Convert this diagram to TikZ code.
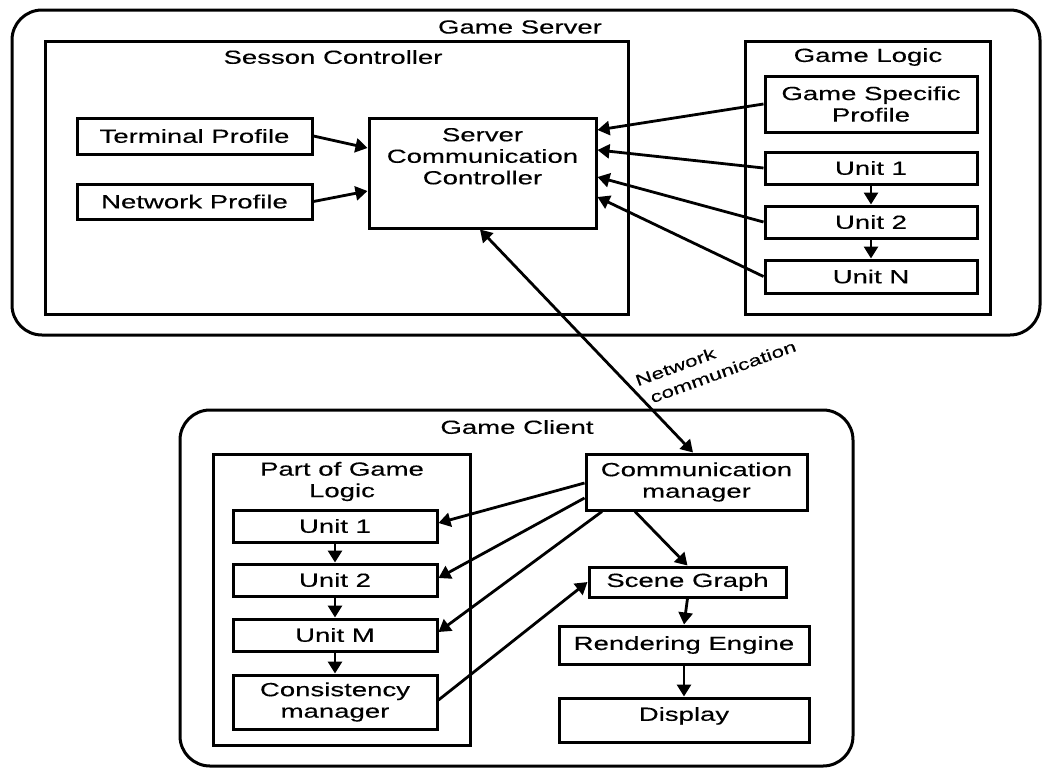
\documentclass[tikz,border=0pt]{standalone}
\usepackage{fontspec}
\setmainfont{Liberation Sans}[FakeStretch=1.45,FakeBold=0.3]
\usetikzlibrary{arrows.meta}
\begin{document}
\begin{tikzpicture}[x=1pt,y=-1pt,
  every node/.style={font=\fontsize{19}{21.5}\selectfont},
  box/.style={draw, line width=3pt, rectangle, inner sep=0pt, align=center},
  cont/.style={draw, line width=3pt, rectangle, rounded corners=30pt, inner sep=0pt},
  ttl/.style={inner sep=0pt, align=center},
  arr/.style={line width=2.8pt, -{Triangle[length=12pt,width=14pt]}},
  darr/.style={line width=2.8pt, {Triangle[length=12pt,width=14pt]}-{Triangle[length=12pt,width=14pt]}}
]
\useasboundingbox (0,0) rectangle (1055,769);
% ---------- Game Server ----------
\node[cont, minimum width=1028pt, minimum height=325pt] (GS) at (526,172.5) {};
\node[ttl] (GSt) at (520,27) {Game Server};
\node[box, minimum width=583pt, minimum height=273pt] (SC) at (336.5,177.5) {};
\node[ttl] (SCt) at (333,57) {Sesson Controller};
\node[box, minimum width=235pt, minimum height=36pt] (TP) at (194.5,136) {Terminal Profile};
\node[box, minimum width=235pt, minimum height=35pt] (NP) at (194.5,201.5) {Network Profile};
\node[box, minimum width=227pt, minimum height=110pt,
  label={[name=SCCt, anchor=north, yshift=-8pt, align=center]north:Server\\Communication\\Controller}] (SCC) at (482.5,173) {};
\node[box, minimum width=245pt, minimum height=273pt] (GL) at (867.5,177.5) {};
\node[ttl] (GLt) at (868,57) {Game Logic};
\node[box, minimum width=212pt, minimum height=56pt] (GSP) at (871,104) {Game Specific\\Profile};
\node[box, minimum width=212pt, minimum height=32pt] (SU1) at (871,168) {Unit 1};
\node[box, minimum width=212pt, minimum height=32pt] (SU2) at (871,222) {Unit 2};
\node[box, minimum width=212pt, minimum height=33pt] (SUN) at (871,276.5) {Unit N};
% ---------- Game Client ----------
\node[cont, minimum width=673pt, minimum height=356pt] (GC) at (516.5,588) {};
\node[ttl] (GCt) at (517,427) {Game Client};
\node[box, minimum width=257pt, minimum height=291pt] (PGL) at (341.5,599.5) {};
\node[ttl] (PGLt) at (342,481.5) {Part of Game\\Logic};
\node[box, minimum width=204pt, minimum height=32pt] (CU1) at (335,526) {Unit 1};
\node[box, minimum width=204pt, minimum height=32pt] (CU2) at (335,580) {Unit 2};
\node[box, minimum width=204pt, minimum height=32pt] (CUM) at (335,635) {Unit M};
\node[box, minimum width=204pt, minimum height=54pt] (CCM) at (335,702) {Consistency\\manager};
\node[box, minimum width=221pt, minimum height=56pt] (CM) at (696.5,482) {Communication\\manager};
\node[box, minimum width=197pt, minimum height=30pt] (SG) at (687.5,582) {Scene Graph};
\node[box, minimum width=250pt, minimum height=38pt] (RE) at (684,645) {Rendering Engine};
\node[box, minimum width=250pt, minimum height=44pt,
  label={[name=DIt, anchor=north, yshift=-7pt]north:Display}] (DI) at (684,720) {};
% ---------- Server arrows ----------
\draw[arr] (TP.east) -- ([yshift=25pt]SCC.west);
\draw[arr] (NP.east) -- ([yshift=-18pt]SCC.west);
\draw[arr] (GSP.west) -- ([yshift=43pt]SCC.east);
\draw[arr] (SU1.west) -- ([yshift=23pt]SCC.east);
\draw[arr] (SU2.west) -- ([yshift=-4pt]SCC.east);
\draw[arr] (SUN.west) -- ([yshift=-24pt]SCC.east);
\draw[arr] (SU1.south) -- (SU2.north);
\draw[arr] (SU2.south) -- (SUN.north);
% ---------- Network ----------
\draw[darr] ([xshift=-2.5pt]SCC.south) -- ([xshift=-3.5pt]CM.north);
\node[ttl, rotate=20, align=left, font=\fontsize{15.8}{21}\selectfont] (NC) at (715.6,363.2) {Network\\\hspace*{8pt}communication};
% ---------- Client arrows ----------
\draw[arr] ([yshift=-1pt]CM.west) -- ([yshift=3pt]CU1.east);
\draw[arr] ([yshift=-16pt]CM.west) -- ([yshift=2pt]CU2.east);
\draw[arr] ([xshift=-94.5pt]CM.south) -- ([yshift=3pt]CUM.east);
\draw[arr] ([xshift=-61.5pt]CM.south) -- (SG.north);
\draw[arr] ([yshift=2pt]CCM.east) -- (SG.west);
\draw[arr] (SG.south) -- (RE.north);
\draw[arr] (RE.south) -- (DI.north);
\draw[arr] (CU1.south) -- (CU2.north);
\draw[arr] (CU2.south) -- (CUM.north);
\draw[arr] (CUM.south) -- (CCM.north);
\end{tikzpicture}
\end{document}
